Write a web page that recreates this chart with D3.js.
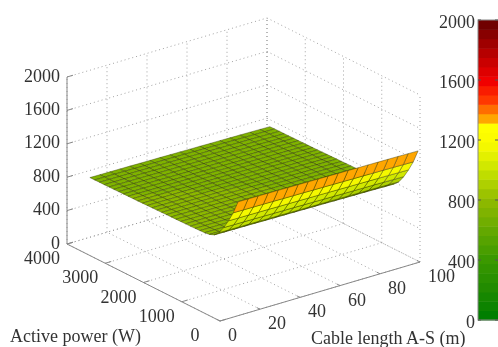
<!DOCTYPE html>
<html>
<head>
<meta charset="utf-8">
<script src="https://cdn.jsdelivr.net/npm/d3@7"></script>
<style>
  html, body { margin: 0; padding: 0; background: #fff; overflow: hidden; }
  text { font-family: "Liberation Serif", serif; fill: #333; }
</style>
</head>
<body>
<div id="chart"></div>
<script>
let totalWidth = 498, totalHeight = 347;

// data
const cableLengths = [10, 15, 20, 25, 30, 35, 40, 45, 50, 55, 60, 65, 70, 75, 80, 85, 90, 95, 100];
const powers = [50, 175, 300, 425, 550, 675, 800, 925, 1050, 1175, 1300, 1425, 1550, 1675, 1800, 1925,
  2050, 2175, 2300, 2425, 2550, 2675, 2800, 2925, 3050, 3175, 3300, 3425, 3550, 3675, 3800, 3925];
// loss at the shortest cable, one value per power row
const lossByPower = [1345, 1185, 1060, 950, 860, 805, 782, 774, 770, 768, 766, 765, 764, 762, 761, 760,
  758, 757, 755, 754, 753, 751, 750, 749, 748, 747, 746, 745, 744, 744, 743, 742];
// change of the loss along the cable
const lossByCable = [0, -1, -2, -3, -4, -6, -7, -8, -10, -11, -13, -14, -16, -17, -19, -20, -22, -24, -26];

const cableTicks = [0, 20, 40, 60, 80, 100];
const powerTicks = [0, 1000, 2000, 3000, 4000];
const lossTicks = [0, 400, 800, 1200, 1600, 2000];
const colorStops = [0, 400, 800, 1000, 1180, 1290, 1350, 1480, 1600, 1800, 2000];
const colorValues = ["#007c00", "#3a9800", "#90ba00", "#c8e400", "#fbfb00", "#ffff00", "#ff9c00", "#ff3000", "#f00000", "#b00000", "#640000"];
const colorBands = 32;

const svg = d3.select("#chart")
  .append("svg")
  .attr("width", totalWidth)
  .attr("height", totalHeight);

svg.append("filter").attr("id", "soft")
  .append("feGaussianBlur").attr("stdDeviation", 0.4);

const root = svg.append("g").attr("filter", "url(#soft)");

// oblique projection of the 3D box: each axis adds its own screen offset
const cableX = d3.scaleLinear().domain([0, 100]).range([0, 200]);
const cableY = d3.scaleLinear().domain([0, 100]).range([0, -59]);
const powerX = d3.scaleLinear().domain([0, 4000]).range([0, -153]);
const powerY = d3.scaleLinear().domain([0, 4000]).range([0, -77]);
const lossY = d3.scaleLinear().domain([0, 2000]).range([0, -167]);
const originX = 220, originY = 321;

function project(cable, power, loss) {
  return [originX + cableX(cable) + powerX(power), originY + cableY(cable) + powerY(power) + lossY(loss)];
}

const bandColor = d3.scaleLinear().domain(colorStops).range(colorValues);
function lossColor(v) {
  const step = 2000 / colorBands;
  return bandColor((Math.floor(v / step) + 0.5) * step);
}

function line3d(parent, a, b, cls) {
  const p = project(...a), q = project(...b);
  const l = parent.append("line")
    .attr("x1", p[0]).attr("y1", p[1]).attr("x2", q[0]).attr("y2", q[1]);
  if (cls == "grid") {
    l.attr("stroke", "#999").attr("stroke-width", 0.9).attr("stroke-dasharray", "1 3");
  } else {
    l.attr("stroke", "#888").attr("stroke-width", 1);
  }
}

// grid on the floor and the two back walls
const grid = root.append("g");
cableTicks.forEach(c => {
  line3d(grid, [c, 0, 0], [c, 4000, 0], "grid");
  line3d(grid, [c, 4000, 0], [c, 4000, 2000], "grid");
});
powerTicks.forEach(p => {
  line3d(grid, [0, p, 0], [100, p, 0], "grid");
  line3d(grid, [100, p, 0], [100, p, 2000], "grid");
});
lossTicks.forEach(z => {
  line3d(grid, [0, 4000, z], [100, 4000, z], "grid");
  line3d(grid, [100, 4000, z], [100, 0, z], "grid");
});

// axes
const axes = root.append("g");
line3d(axes, [0, 4000, 0], [0, 4000, 2000]);
line3d(axes, [0, 4000, 0], [0, 0, 0]);
line3d(axes, [0, 0, 0], [100, 0, 0]);

lossTicks.forEach(z => {
  line3d(axes, [0, 4000, z], [3, 4000, z]);
  const p = project(0, 4000, z);
  root.append("text").attr("x", p[0] - 7).attr("y", p[1] + 4.5)
    .attr("text-anchor", "end").attr("font-size", 18).text(z);
});
powerTicks.forEach(v => {
  line3d(axes, [0, v, 0], [3, v, 0]);
  const p = project(0, v, 0);
  root.append("text").attr("x", p[0] - 25).attr("y", p[1] + 20)
    .attr("text-anchor", "middle").attr("font-size", 18).text(v);
});
cableTicks.forEach(v => {
  line3d(axes, [v, 0, 0], [v, 80, 0]);
  const p = project(v, 0, 0);
  root.append("text").attr("x", p[0] + 8).attr("y", p[1] + 20)
    .attr("text-anchor", "start").attr("font-size", 18).text(v);
});

// surface, painted from the far corner to the near one
const surface = root.append("g");
const pathLine = d3.line();
function loss(i, j) {
  return lossByPower[i] + lossByCable[j];
}
for (let i = powers.length - 2; i >= 0; i--) {
  for (let j = cableLengths.length - 2; j >= 0; j--) {
    const corners = [[j, i], [j + 1, i], [j + 1, i + 1], [j, i + 1]]
      .map(c => project(cableLengths[c[0]], powers[c[1]], loss(c[1], c[0])));
    surface.append("path")
      .attr("d", pathLine(corners) + "Z")
      .attr("fill", lossColor(loss(i, j)))
      .attr("stroke", "#2a3000")
      .attr("stroke-width", 0.4);
  }
}

// colour bar
const barY = d3.scaleLinear().domain([0, 2000]).range([320, 20]);
const bar = root.append("g");
bar.selectAll("rect")
  .data(d3.range(colorBands))
  .enter()
  .append("rect")
  .attr("x", 478)
  .attr("y", d => barY((d + 1) * 2000 / colorBands))
  .attr("width", 20)
  .attr("height", d => barY(d * 2000 / colorBands) - barY((d + 1) * 2000 / colorBands) + 0.5)
  .attr("fill", d => lossColor((d + 0.5) * 2000 / colorBands));
bar.append("rect").attr("x", 478).attr("y", 20).attr("width", 22).attr("height", 300)
  .attr("fill", "none").attr("stroke", "#888").attr("stroke-width", 1);
lossTicks.forEach(z => {
  bar.append("line").attr("x1", 478).attr("x2", 481).attr("y1", barY(z)).attr("y2", barY(z)).attr("stroke", "#555");
  bar.append("line").attr("x1", 495).attr("x2", 498).attr("y1", barY(z)).attr("y2", barY(z)).attr("stroke", "#555");
  root.append("text").attr("x", 475).attr("y", barY(z) + 7.5)
    .attr("text-anchor", "end").attr("font-size", 18).text(z);
});

// axis titles
root.append("text").attr("x", 10).attr("y", 342).attr("font-size", 18).text("Active power (W)");
root.append("text").attr("x", 311).attr("y", 344).attr("font-size", 18).text("Cable length A-S (m)");
</script>
</body>
</html>
